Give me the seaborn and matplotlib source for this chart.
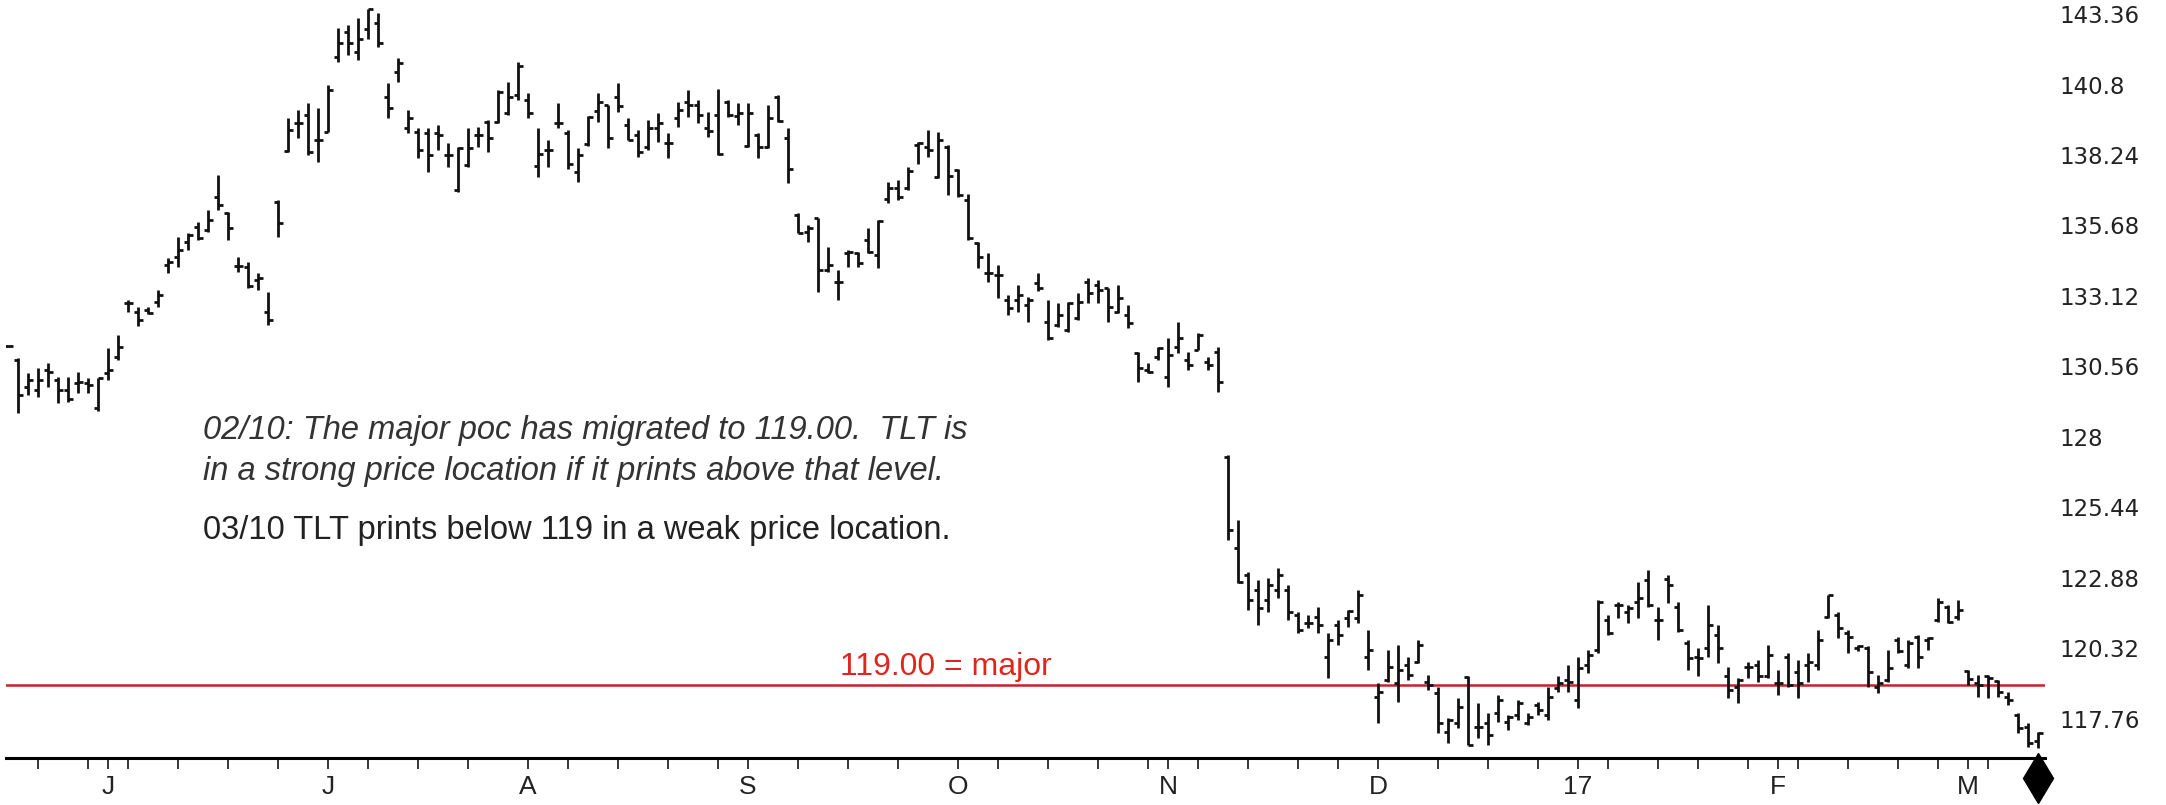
import numpy as np
import pandas as pd
import matplotlib
matplotlib.use("Agg")
import matplotlib.pyplot as plt
import matplotlib.transforms as mtransforms
import seaborn as sns


# daily OHLC bars of TLT (one entry per trading day)
OPEN = [
    131.30, 130.80, 129.83, 129.71, 130.43, 130.07, 129.71, 129.95, 129.95, 129.04,
    130.31, 130.92, 132.88, 132.55, 132.61, 132.91, 134.24, 134.55, 135.09, 135.64,
    135.52, 136.72, 136.12, 134.21, 134.18, 133.70, 132.55, 136.55, 138.39, 139.40,
    139.69, 138.78, 139.09, 141.81, 142.72, 141.99, 142.80, 143.02, 140.35, 141.26,
    139.21, 139.09, 139.03, 139.03, 138.24, 136.97, 137.87, 138.97, 139.45, 139.45,
    139.75, 140.42, 140.24, 137.84, 138.42, 139.39, 139.03, 137.63, 138.64, 139.85,
    140.05, 140.35, 139.33, 138.97, 138.54, 139.21, 138.66, 139.57, 140.18, 140.05,
    139.21, 139.69, 140.18, 139.65, 138.57, 138.97, 138.54, 140.33, 138.84, 136.06,
    135.45, 135.94, 134.06, 133.64, 134.67, 134.67, 135.15, 134.61, 136.66, 137.03,
    137.03, 138.60, 138.54, 137.45, 138.54, 137.69, 136.60, 135.03, 133.94, 133.88,
    132.97, 132.97, 132.79, 133.59, 132.19, 132.07, 131.88, 132.31, 133.64, 133.52,
    133.40, 132.55, 132.43, 131.04, 130.43, 130.92, 130.19, 131.28, 130.80, 131.16,
    130.74, 131.10, 127.28, 123.96, 122.99, 122.44, 122.08, 122.44, 122.44, 121.54,
    121.23, 121.47, 120.02, 121.17, 121.42, 121.42, 120.02, 118.57, 119.18, 119.05,
    119.72, 119.84, 119.11, 118.69, 117.30, 117.60, 119.27, 117.48, 117.60, 117.97,
    117.66, 117.91, 117.60, 118.27, 117.91, 118.87, 119.18, 118.45, 119.72, 120.27,
    121.36, 121.90, 121.66, 122.02, 122.81, 121.36, 122.83, 121.84, 120.51, 120.02,
    120.33, 120.81, 119.30, 118.93, 119.66, 119.72, 119.30, 119.05, 120.02, 119.48,
    119.72, 119.72, 121.47, 121.54, 120.87, 120.33, 120.33, 118.93, 119.18, 120.63,
    119.72, 120.75, 120.63, 121.36, 121.84, 121.47, 119.51, 119.05, 119.32, 119.15,
    118.57, 117.91, 117.48, 116.94,
]
HIGH = [
    131.35, 130.86, 130.31, 130.49, 130.67, 130.19, 130.19, 130.37, 130.13, 130.15,
    131.22, 131.70, 132.97, 132.73, 132.73, 133.34, 134.49, 135.27, 135.40, 135.82,
    136.24, 137.51, 136.17, 134.55, 134.36, 133.94, 133.27, 136.60, 139.57, 139.87,
    140.12, 139.93, 140.78, 142.84, 142.96, 143.20, 143.56, 143.38, 140.84, 141.75,
    139.87, 139.21, 139.21, 139.33, 138.66, 138.54, 139.21, 139.27, 139.51, 140.60,
    140.90, 141.63, 140.48, 139.21, 138.78, 140.14, 139.15, 138.48, 139.65, 140.48,
    140.05, 140.86, 139.57, 139.15, 139.51, 139.77, 139.03, 140.18, 140.60, 140.24,
    139.81, 140.65, 140.24, 140.12, 140.14, 139.03, 140.05, 140.42, 139.21, 136.12,
    135.70, 135.97, 134.91, 134.06, 134.79, 134.73, 135.58, 135.88, 137.27, 137.33,
    137.81, 138.72, 139.15, 139.06, 138.60, 137.75, 136.84, 135.09, 134.67, 134.24,
    133.16, 133.52, 133.08, 133.95, 132.97, 132.85, 132.91, 133.22, 133.76, 133.70,
    133.40, 133.52, 132.79, 131.10, 130.67, 131.28, 131.58, 132.19, 131.10, 131.76,
    130.92, 131.28, 127.35, 124.99, 123.10, 122.81, 122.88, 123.24, 122.63, 121.65,
    121.54, 121.84, 120.87, 121.36, 121.72, 122.44, 121.00, 119.05, 120.27, 120.45,
    120.02, 120.63, 119.36, 118.93, 117.78, 118.51, 119.30, 118.33, 117.97, 118.63,
    117.91, 118.45, 117.97, 118.39, 118.93, 119.30, 119.72, 120.02, 120.27, 122.08,
    121.54, 122.02, 121.90, 122.75, 123.17, 121.84, 122.99, 122.02, 120.63, 120.33,
    121.90, 121.17, 119.66, 119.24, 119.84, 119.90, 120.45, 119.54, 120.14, 119.90,
    120.14, 121.00, 122.26, 121.66, 121.00, 120.45, 120.39, 119.36, 120.27, 120.75,
    120.63, 120.81, 120.75, 122.14, 121.90, 122.08, 119.54, 119.36, 119.36, 119.18,
    118.75, 117.97, 117.60, 117.30,
]
LOW = [
    131.25, 128.86, 129.52, 129.46, 129.83, 129.22, 129.28, 129.59, 129.59, 128.95,
    130.07, 130.80, 132.55, 132.03, 132.47, 132.73, 133.94, 134.18, 134.79, 135.15,
    135.45, 136.24, 135.15, 133.99, 133.40, 133.34, 132.07, 135.27, 138.36, 138.84,
    138.24, 138.00, 139.09, 141.63, 141.87, 141.69, 142.47, 142.17, 139.57, 140.90,
    139.03, 138.12, 137.63, 138.42, 137.81, 136.91, 137.81, 138.54, 138.36, 139.40,
    139.69, 140.24, 139.57, 137.45, 137.81, 139.21, 137.75, 137.27, 138.57, 139.45,
    138.48, 139.81, 138.78, 138.18, 138.42, 138.72, 138.12, 139.27, 139.63, 139.39,
    138.90, 138.24, 139.63, 139.33, 138.54, 138.12, 138.48, 139.45, 137.21, 135.40,
    135.09, 133.27, 133.99, 132.99, 134.18, 134.18, 134.67, 134.12, 136.48, 136.62,
    136.97, 137.93, 138.18, 137.39, 136.79, 136.72, 135.15, 134.12, 133.64, 133.03,
    132.43, 132.54, 132.17, 133.30, 131.52, 132.01, 131.82, 132.25, 132.85, 132.85,
    132.19, 132.49, 131.94, 130.01, 130.31, 130.80, 129.83, 131.04, 130.43, 131.16,
    130.43, 129.65, 124.26, 122.69, 121.72, 121.17, 121.65, 122.15, 121.35, 120.88,
    121.05, 120.87, 119.24, 120.45, 121.11, 121.23, 119.54, 117.60, 119.11, 118.39,
    119.18, 119.78, 118.81, 117.23, 116.87, 117.42, 116.82, 117.05, 116.82, 117.66,
    117.36, 117.72, 117.54, 117.91, 117.72, 118.75, 118.75, 118.15, 119.42, 120.14,
    120.81, 121.42, 121.23, 121.42, 121.84, 120.63, 121.96, 120.93, 119.54, 119.30,
    120.02, 119.78, 118.51, 118.33, 119.24, 119.11, 119.24, 118.63, 118.93, 118.51,
    119.11, 119.54, 121.42, 120.69, 120.14, 120.21, 118.93, 118.69, 119.11, 120.14,
    119.60, 119.60, 120.27, 121.29, 121.23, 121.36, 118.99, 118.57, 118.52, 118.57,
    118.27, 117.24, 116.75, 116.69,
]
CLOSE = [
    131.30, 129.52, 130.07, 130.07, 130.37, 129.71, 129.37, 129.98, 129.89, 130.13,
    130.43, 131.28, 132.88, 132.25, 132.49, 133.16, 134.36, 134.79, 135.33, 135.21,
    135.88, 136.42, 135.58, 134.21, 133.48, 133.76, 132.25, 135.76, 139.16, 139.40,
    138.36, 138.78, 140.60, 142.30, 142.30, 142.47, 143.56, 142.30, 139.93, 141.57,
    139.57, 138.42, 138.24, 138.97, 138.24, 138.48, 138.48, 138.97, 138.84, 140.54,
    140.35, 141.47, 139.75, 138.29, 138.42, 139.39, 137.93, 138.24, 139.63, 140.18,
    138.84, 140.01, 138.78, 138.36, 139.21, 139.39, 138.66, 139.87, 140.05, 139.69,
    139.12, 138.29, 139.69, 139.75, 139.77, 138.54, 139.57, 139.48, 137.75, 135.42,
    135.58, 134.06, 134.24, 133.64, 134.73, 134.31, 134.73, 135.85, 137.03, 136.72,
    137.67, 138.66, 138.42, 138.78, 137.48, 136.79, 135.21, 134.55, 133.96, 133.88,
    132.68, 133.16, 132.97, 133.41, 131.58, 132.43, 132.88, 132.91, 133.22, 133.34,
    132.73, 133.03, 132.13, 130.49, 130.37, 131.22, 130.98, 131.58, 130.61, 131.70,
    130.61, 130.01, 124.62, 122.75, 122.08, 121.79, 122.63, 122.99, 121.65, 120.99,
    121.25, 121.17, 120.63, 120.81, 121.69, 122.26, 120.27, 118.75, 119.66, 119.54,
    119.36, 120.45, 118.99, 117.60, 117.72, 118.21, 116.82, 117.48, 117.18, 118.45,
    117.84, 118.33, 117.84, 118.09, 118.57, 119.05, 119.11, 119.60, 120.08, 122.02,
    120.87, 121.90, 121.78, 122.14, 121.90, 121.36, 122.63, 121.00, 119.96, 119.96,
    121.17, 120.33, 118.81, 119.18, 119.66, 119.30, 120.08, 119.05, 118.99, 119.05,
    119.84, 120.63, 122.26, 121.05, 120.75, 120.39, 119.48, 119.05, 119.60, 120.21,
    120.51, 120.02, 120.69, 122.02, 121.29, 121.72, 119.20, 119.00, 119.25, 118.75,
    118.45, 117.42, 116.87, 117.24,
]

# x axis: month labels and weekly ticks (positions are bar numbers)
MONTH_POS = [10, 32, 52, 74, 95, 116, 137, 157, 177, 196]
MONTH_LABELS = ["J", "J", "A", "S", "O", "N", "D", "17", "F", "M"]
WEEK_TICKS = [3, 8, 12, 17, 22, 27, 36, 41, 46, 56, 61, 66, 71, 79, 84, 89,
              99, 104, 109, 114, 119, 124, 129, 133, 143, 148, 153, 160, 165,
              169, 174, 179, 184, 189, 193, 198]

PRICE_TICKS = [117.76, 120.32, 122.88, 125.44, 128.00, 130.56,
               133.12, 135.68, 138.24, 140.80, 143.36]
PRICE_LABELS = ["117.76", "120.32", "122.88", "125.44", "128", "130.56",
                "133.12", "135.68", "138.24", "140.8", "143.36"]

POC_LEVEL = 119.00
POC_LABEL = "119.00 = major"

NOTE_ITALIC = [
    "02/10: The major poc has migrated to 119.00.  TLT is",
    "in a strong price location if it prints above that level.",
]
NOTE_PLAIN = "03/10 TLT prints below 119 in a weak price location."

BAR_BLACK = "#111111"
POC_RED = "#c8202a"


if __name__ == "__main__":
    sns.set_style("white")
    plt.rcParams["font.family"] = ["DejaVu Sans"]

    bars = pd.DataFrame({"open": OPEN, "high": HIGH, "low": LOW, "close": CLOSE})
    bars["x"] = np.arange(len(bars))

    fig = plt.figure(figsize=(21.66, 8.05), dpi=100)
    ax = fig.add_axes([0.0028, 0.0584, 0.9414, 0.9416])

    # reference level
    ax.axhline(POC_LEVEL, color=POC_RED, linewidth=1.8, zorder=1)

    # OHLC bars
    ax.vlines(bars["x"], bars["low"], bars["high"], color=BAR_BLACK,
              linewidth=2.0, zorder=3)
    ax.hlines(bars["open"], bars["x"] - 0.45, bars["x"], color=BAR_BLACK,
              linewidth=2.0, zorder=3)
    ax.hlines(bars["close"], bars["x"], bars["x"] + 0.45, color=BAR_BLACK,
              linewidth=2.0, zorder=3)

    ax.set_xlim(-0.2, 203.7)
    ax.set_ylim(116.34, 143.87)

    # level label
    ax.annotate(POC_LABEL, xy=(93.8, POC_LEVEL), xytext=(0, 7),
                textcoords="offset points", ha="center", va="baseline",
                color="#e0251f", fontsize=23,
                family=["Liberation Sans", "DejaVu Sans"])

    # notes
    note_font = ["Liberation Sans", "DejaVu Sans"]
    ax.text(19.5, 128.22, NOTE_ITALIC[0], ha="left", va="center",
            fontsize=23.5, style="italic", color="#333333", family=note_font)
    ax.text(19.5, 126.73, NOTE_ITALIC[1], ha="left", va="center",
            fontsize=23.5, style="italic", color="#333333", family=note_font)
    ax.text(19.5, 124.62, NOTE_PLAIN, ha="left", va="center",
            fontsize=23.5, color="#222222", family=note_font)

    # axes styling
    for side in ["top", "left", "right"]:
        ax.spines[side].set_visible(False)
    ax.spines["bottom"].set_linewidth(2.2)
    ax.spines["bottom"].set_color("black")

    ax.set_xticks(MONTH_POS)
    ax.set_xticklabels(MONTH_LABELS)
    ax.set_xticks(WEEK_TICKS, minor=True)
    ax.tick_params(axis="x", which="both", direction="out", length=8,
                   width=1.1, color="black", bottom=True)
    ax.tick_params(axis="x", which="major", labelsize=19, pad=4,
                   labelcolor="#222222")
    for lbl in ax.get_xticklabels():
        lbl.set_family(["Liberation Sans", "DejaVu Sans"])

    ax.yaxis.tick_right()
    ax.set_yticks(PRICE_TICKS)
    ax.set_yticklabels(PRICE_LABELS)
    ax.tick_params(axis="y", length=0, pad=10, labelsize=16.5,
                   labelcolor="#222222")
    ax.grid(False)

    # end-of-data marker under the last bar
    marker_tf = mtransforms.blended_transform_factory(ax.transData, ax.transAxes)
    ax.plot([bars["x"].iloc[-1]], [-0.027], marker="d", markersize=25,
            color="black", transform=marker_tf, clip_on=False)

    fig.savefig("out.png", dpi=100, facecolor="white")
    plt.close(fig)
